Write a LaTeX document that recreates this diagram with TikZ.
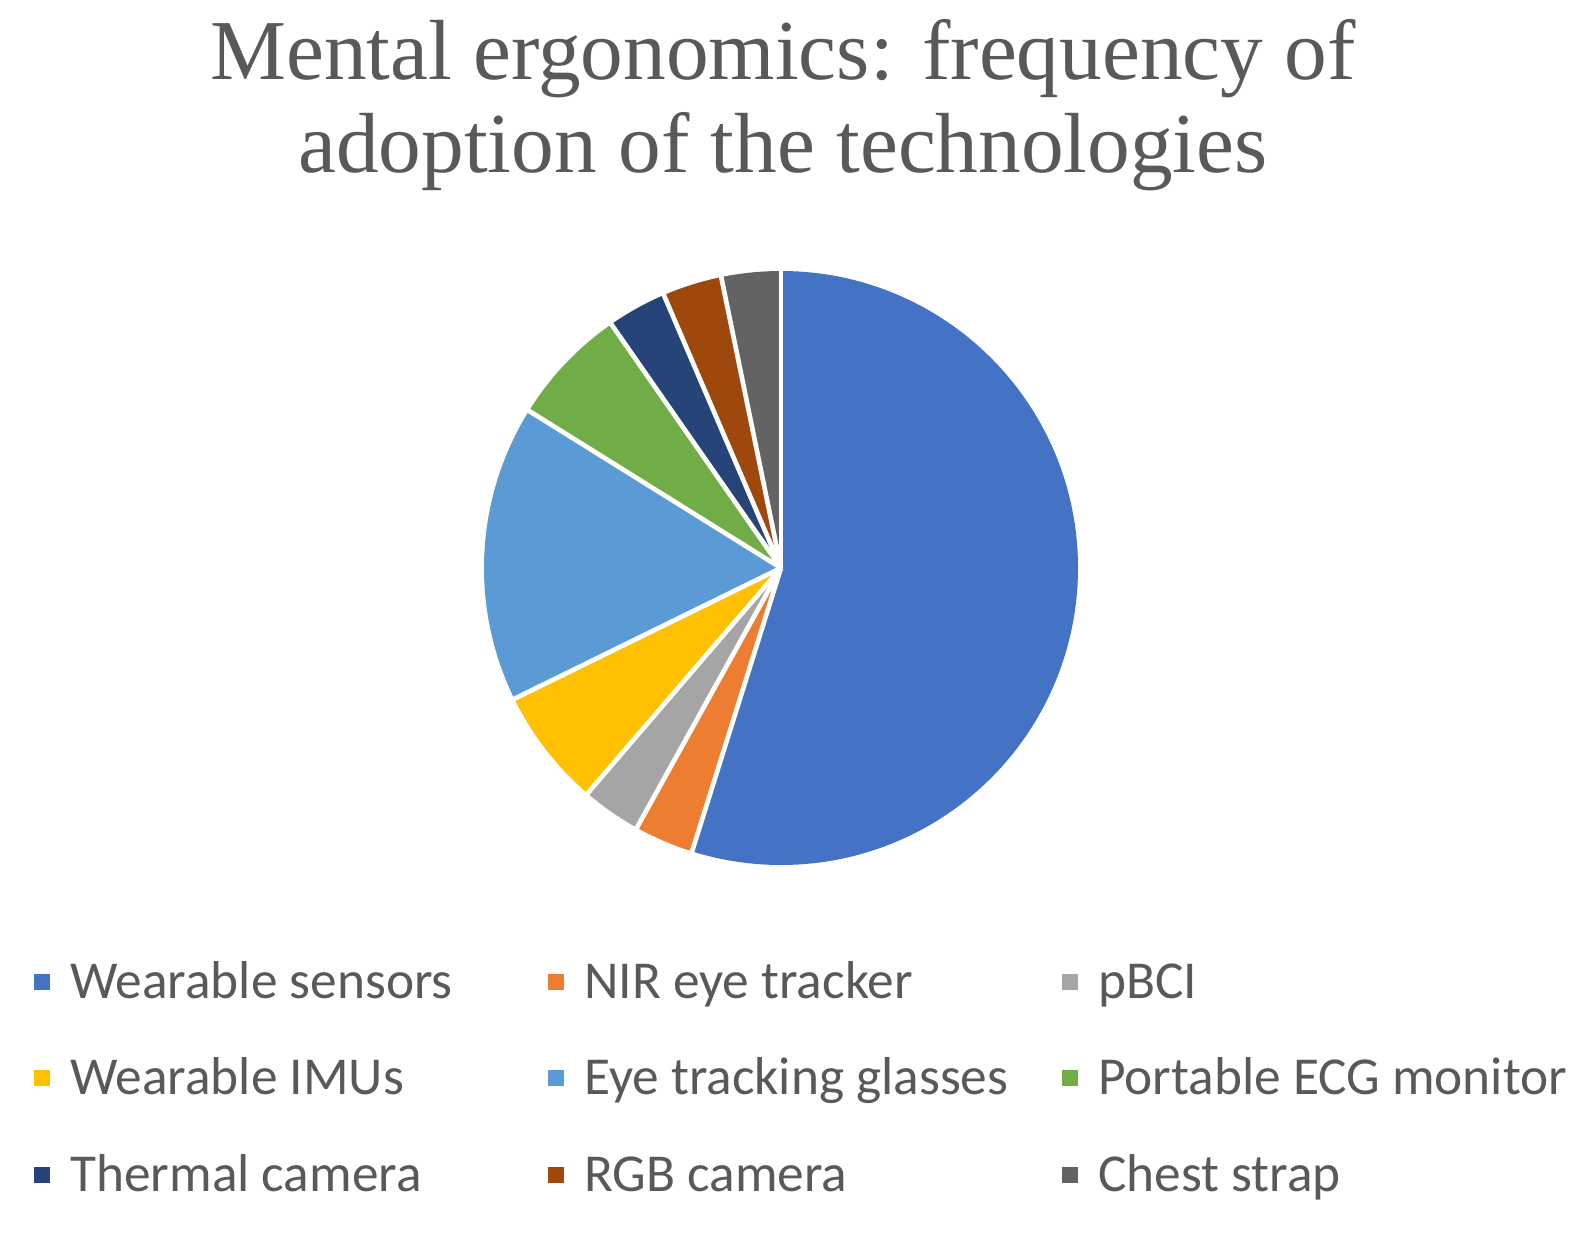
\documentclass[tikz,border=0pt]{standalone}
\usepackage{fontspec}
\setmainfont{Carlito}
\newfontfamily\titlefont{Liberation Serif}
\definecolor{cA}{HTML}{4472C4}\definecolor{cB}{HTML}{ED7D31}\definecolor{cC}{HTML}{A5A5A5}
\definecolor{cD}{HTML}{FFC000}\definecolor{cE}{HTML}{5B9BD5}\definecolor{cF}{HTML}{70AD47}
\definecolor{cG}{HTML}{264478}\definecolor{cH}{HTML}{9E480E}\definecolor{cI}{HTML}{636363}
\definecolor{txt}{HTML}{595959}
\begin{document}
\begin{tikzpicture}[x=0.75pt,y=-0.75pt,
  legmark/.style={minimum size=12pt,inner sep=0pt},
  leg/.style={anchor=base west,text=txt,font=\fontsize{40pt}{42pt}\selectfont,inner sep=0pt}]
\useasboundingbox (0,0) rectangle (1595,1241);
\node[text=txt,font=\titlefont\fontsize{64pt}{70pt}\selectfont,align=center] (title) at (783,105) {Mental ergonomics: frequency of\\adoption of the technologies};
\coordinate (c) at (781,568);
\def\R{297}
\foreach \a/\b/\col in {-90/107.42/cA,107.42/119.03/cB,119.03/130.65/cC,130.65/153.87/cD,153.87/211.94/cE,211.94/235.16/cF,235.16/246.77/cG,246.77/258.39/cH,258.39/270/cI}{
  \fill[\col] (c) -- ++(\a:\R) arc[start angle=\a,end angle=\b,radius=\R] -- cycle;
}
\foreach \a in {-90,107.42,119.03,130.65,153.87,211.94,235.16,246.77,258.39}{
  \draw[white,line width=3.5pt] (c) -- ++(\a:\R+3);
}
\foreach \col/\x/\y/\t/\n in {cA/42/982/Wearable sensors/la,cB/556/982/NIR eye tracker/lb,cC/1070/982/pBCI/lc,
  cD/42/1078/Wearable IMUs/ld,cE/556/1078/Eye tracking glasses/le,cF/1070/1078/Portable ECG monitor/lf,
  cG/42/1175/Thermal camera/lg,cH/556/1175/RGB camera/lh,cI/1070/1175/Chest strap/li}{
  \node[legmark,fill=\col] (m\n) at (\x,\y) {};
  \node[leg] (\n) at (\x+28,\y+16) {\t};
}
\end{tikzpicture}
\end{document}
